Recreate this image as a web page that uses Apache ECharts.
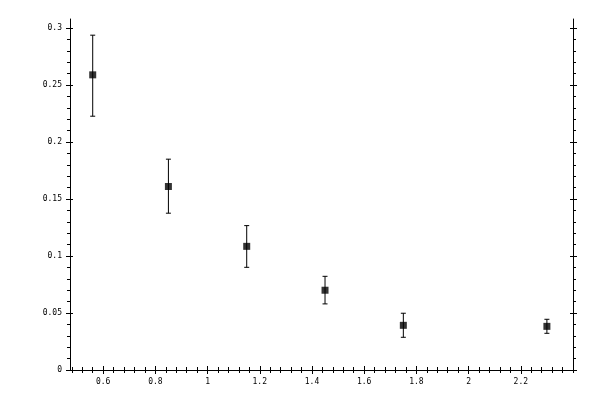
<!DOCTYPE html>
<html>
<head>
<meta charset="utf-8">
<script src="https://cdn.jsdelivr.net/npm/echarts@6/dist/echarts.min.js"></script>
<style>
  html, body { margin: 0; padding: 0; background: #fff; }
  #chart { width: 600px; height: 400px; }
</style>
</head>
<body>
<div id="chart"></div>
<script>
// measured points with their error bars
const xValues = [0.56, 0.85, 1.15, 1.45, 1.75, 2.3]
const yValues = [0.259, 0.161, 0.1085, 0.070, 0.0392, 0.0383]
const yLow = [0.2227, 0.1376, 0.0901, 0.058, 0.0287, 0.0322]
const yHigh = [0.2938, 0.185, 0.1267, 0.0822, 0.0498, 0.0445]

// tick labels
const xTicks = [0.6, 0.8, 1, 1.2, 1.4, 1.6, 1.8, 2, 2.2]
const yTicks = [0, 0.05, 0.1, 0.15, 0.2, 0.25, 0.3]

const xMin = 0.473
const xMax = 2.4
const yMin = 0
const yMax = 0.308

// minor ticks: x every 0.04, y every 0.01
function minorValues (lo, hi, step, majors) {
  const out = []
  for (let k = Math.ceil(lo / step - 1e-9); k * step <= hi + 1e-9; k++) {
    const v = Math.round(k * step * 1000) / 1000
    if (majors.indexOf(v) < 0) out.push(v)
  }
  return out
}
const xMinor = minorValues(xMin, xMax, 0.04, xTicks)
const yMinor = minorValues(yMin, yMax, 0.01, yTicks)

const chart = echarts.init(document.getElementById('chart'))

const labelFont = {
  color: '#000',
  fontFamily: 'DejaVu Sans Mono',
  fontSize: 8
}

// three stacked axes per side: line + outer major ticks, inner major ticks, minor ticks
function makeAxes (position, min, max, majors, minors, withLabels, margin) {
  const base = { type: 'value', position: position, min: min, max: max, splitLine: { show: false } }
  return [
    Object.assign({}, base, {
      axisLine: { show: true, lineStyle: { color: '#000', width: 1 } },
      axisTick: { show: true, inside: false, length: 4, customValues: majors, lineStyle: { color: '#000' } },
      axisLabel: withLabels
        ? Object.assign({ show: true, customValues: majors, margin: margin, formatter: v => String(+v.toFixed(3)) }, labelFont)
        : { show: false }
    }),
    Object.assign({}, base, {
      axisLine: { show: false },
      axisTick: { show: true, inside: true, length: 3, customValues: majors, lineStyle: { color: '#000' } },
      axisLabel: { show: false }
    }),
    Object.assign({}, base, {
      axisLine: { show: false },
      axisTick: { show: true, inside: false, length: 3, customValues: minors, lineStyle: { color: '#000' } },
      axisLabel: { show: false }
    })
  ]
}

const option = {
  animation: false,
  backgroundColor: '#fff',
  grid: { left: 70, right: 27, top: 19, bottom: 30 },
  xAxis: makeAxes('bottom', xMin, xMax, xTicks, xMinor, true, 8)
    .concat(makeAxes('top', xMin, xMax, xTicks, xMinor, false, 0)),
  yAxis: makeAxes('left', yMin, yMax, yTicks, yMinor, true, 8)
    .concat(makeAxes('right', yMin, yMax, yTicks, yMinor, false, 0)),
  series: [
    {
      type: 'custom',
      xAxisIndex: 0,
      yAxisIndex: 0,
      data: xValues.map((x, i) => [x, yLow[i], yHigh[i]]),
      encode: { x: 0, y: [1, 2] },
      renderItem: function (params, api) {
        const x = api.value(0)
        const lo = api.coord([x, api.value(1)])
        const hi = api.coord([x, api.value(2)])
        const w = 2.5
        const style = { stroke: '#000', lineWidth: 1 }
        return {
          type: 'group',
          children: [
            { type: 'line', shape: { x1: lo[0], y1: lo[1], x2: hi[0], y2: hi[1] }, style: style },
            { type: 'line', shape: { x1: lo[0] - w, y1: lo[1], x2: lo[0] + w, y2: lo[1] }, style: style },
            { type: 'line', shape: { x1: hi[0] - w, y1: hi[1], x2: hi[0] + w, y2: hi[1] }, style: style }
          ]
        }
      },
      z: 2
    },
    {
      type: 'scatter',
      xAxisIndex: 0,
      yAxisIndex: 0,
      symbol: 'rect',
      symbolSize: 7,
      itemStyle: { color: '#000' },
      data: xValues.map((x, i) => [x, yValues[i]]),
      z: 3
    }
  ]
}

chart.setOption(option)
</script>
</body>
</html>
